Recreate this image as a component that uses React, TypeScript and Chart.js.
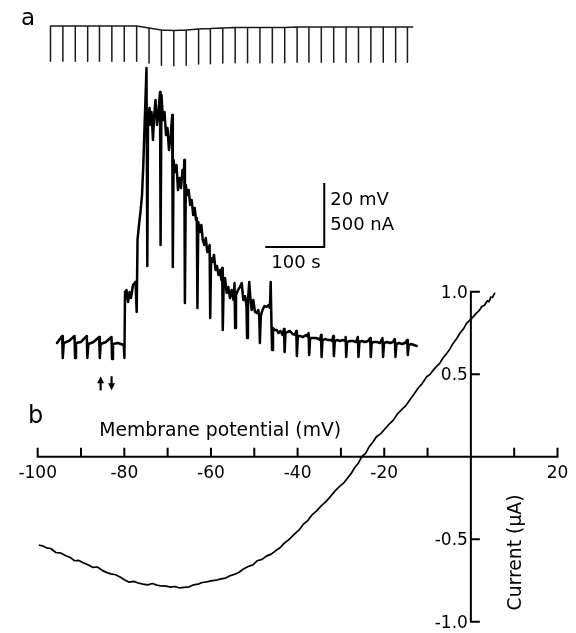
import React, { useEffect, useRef } from "react";
import { Chart, registerables } from "chart.js";

Chart.register(...registerables);

// ---------- Panel b: current–voltage relation ----------
const ivPotential = [-99.6, -98.8, -98, -97, -95.8, -94.6, -93.5, -92.5, -91.5, -90.5, -89.5, -88.4, -87.3, -86.2, -85, -84, -83.1, -82, -81, -80, -78.9, -77.8, -76.8, -75.7, -74.6, -73.5, -72.5, -71.4, -70.4, -69.3, -68.3, -67.2, -66.2, -65, -64, -63, -62, -61, -60, -58.8, -57.7, -56.6, -55.5, -54.5, -53.5, -52.4, -51.4, -50.3, -49.3, -48.2, -47.2, -46.1, -45.1, -44, -43, -41.9, -40.8, -39.7, -38.7, -37.6, -36.6, -35.5, -34.5, -33.4, -32.4, -31.3, -30.3, -29.4, -28.5, -27.6, -26.8, -26, -25.2, -24.3, -23.5, -22.6, -21.8, -20.8, -19.8, -18.8, -17.9, -17, -16, -15, -14.1, -13.1, -12.2, -11.2, -10.2, -9.4, -8.7, -7.9, -7.2, -6.4, -5.6, -4.8, -4.1, -3.3, -2.5, -1.7, -1, 0.2, 1.3, 1.9, 2.5, 3.2, 3.8, 4.2, 4.6, 5, 5.2, 5.5];
const ivCurrent = [-0.536, -0.54, -0.552, -0.556, -0.58, -0.584, -0.6, -0.61, -0.63, -0.628, -0.642, -0.655, -0.67, -0.668, -0.69, -0.702, -0.71, -0.715, -0.728, -0.745, -0.76, -0.755, -0.765, -0.772, -0.776, -0.768, -0.778, -0.783, -0.784, -0.79, -0.786, -0.795, -0.792, -0.788, -0.776, -0.772, -0.762, -0.758, -0.752, -0.748, -0.74, -0.735, -0.72, -0.712, -0.7, -0.678, -0.665, -0.655, -0.63, -0.622, -0.602, -0.59, -0.57, -0.55, -0.522, -0.5, -0.47, -0.445, -0.41, -0.385, -0.35, -0.325, -0.296, -0.27, -0.24, -0.205, -0.18, -0.16, -0.13, -0.1, -0.065, -0.04, 0, 0.02, 0.06, 0.09, 0.121, 0.14, 0.17, 0.2, 0.222, 0.258, 0.285, 0.31, 0.344, 0.38, 0.415, 0.445, 0.485, 0.5, 0.525, 0.548, 0.566, 0.6, 0.625, 0.655, 0.687, 0.715, 0.75, 0.775, 0.808, 0.839, 0.87, 0.885, 0.909, 0.92, 0.945, 0.94, 0.968, 0.965, 0.978, 0.99];

const potentialTicks = [-100, -90, -80, -70, -60, -50, -40, -30, -20, -10, 0, 10, 20];
const potentialLabels = [-100, -80, -60, -40, -20, 20];
const currentTicks = [1.0, 0.5, -0.5, -1.0];
const currentLabels = ["1.0", "0.5", "-0.5", "-1.0"];

// ---------- Panel a: time course ----------
// voltage-clamp pulses (s) and the holding-potential trace (mV, relative)
const pulseTimes = [0, 21, 42, 63, 83, 104, 125, 146, 167, 188, 209, 230, 251, 271, 292, 313, 334, 355, 376, 397, 418, 438, 459, 480, 501, 522, 543, 564, 585, 605];
const holdingLevel = [0, 0, 0, 0, 0, 0, 0, 0, -0.6, -1.25, -1.4, -1.25, -0.9, -0.8, -0.6, -0.5, -0.5, -0.5, -0.5, -0.5, -0.3, -0.3, -0.3, -0.3, -0.3, -0.3, -0.3, -0.3, -0.3, -0.3];
const pulseStep = -11; // mV
const voltageEnd = 614; // s

// membrane current trace (s, nA relative to baseline)
const traceTime = [11.0, 19.8, 20.8, 22.5, 31.4, 40.7, 41.7, 43.2, 51.7, 61.5, 62.5, 64.1, 72.9, 82.5, 83.6, 85.1, 94.1, 103.4, 104.4, 105.9, 114.4, 124.2, 125.3, 126.3, 128.8, 131.4, 133.9, 136.4, 139.8, 144.1, 146.1, 147.5, 150.0, 152.5, 155.1, 157.3, 159.3, 161.5, 162.7, 164.1, 165.3, 167.8, 169.5, 171.2, 173.7, 175.4, 178.0, 180.5, 183.0, 185.6, 186.6, 188.1, 190.7, 193.2, 195.8, 198.3, 200.8, 203.4, 206.3, 207.3, 208.6, 211.0, 213.6, 216.1, 218.6, 221.2, 223.7, 225.8, 226.8, 227.8, 229.3, 231.7, 234.2, 236.8, 239.3, 241.9, 244.4, 246.6, 248.0, 249.0, 250.5, 253.0, 255.6, 258.1, 260.7, 263.2, 265.8, 268.3, 269.7, 270.7, 272.2, 274.6, 277.1, 279.7, 282.2, 284.7, 287.3, 289.8, 291.0, 292.0, 293.6, 295.8, 298.6, 301.4, 304.2, 307.1, 310.2, 311.9, 312.9, 314.4, 317.8, 321.2, 324.1, 326.8, 329.7, 332.2, 333.2, 334.7, 336.9, 339.0, 341.0, 343.7, 346.6, 349.5, 352.2, 353.9, 354.9, 356.4, 359.3, 362.7, 366.4, 369.5, 372.0, 373.2, 374.6, 375.6, 377.1, 379.7, 383.4, 386.4, 389.8, 393.2, 395.8, 396.8, 398.3, 401.7, 405.9, 410.2, 414.4, 416.6, 417.6, 419.2, 422.9, 428.0, 433.0, 436.4, 437.5, 438.5, 440.0, 444.9, 450.0, 455.1, 456.8, 458.5, 459.5, 461.0, 465.3, 470.3, 475.4, 477.1, 479.3, 480.3, 481.9, 485.6, 490.7, 495.8, 499.2, 500.2, 501.2, 502.7, 507.6, 512.7, 517.8, 521.0, 522.0, 523.6, 528.0, 533.0, 538.1, 541.9, 542.9, 544.4, 548.3, 553.4, 558.5, 562.7, 563.7, 565.3, 570.3, 575.4, 580.5, 583.7, 584.7, 586.3, 590.7, 595.8, 600.8, 604.6, 605.6, 607.1, 611.0, 616.1, 620.7];
const traceCurrent = [0, 55, -117, 0, 16, 55, -117, 0, 8, 55, -117, -8, 8, 47, -117, -8, 8, 47, -125, -8, 0, -16, -117, 398, 414, 320, 398, 352, 453, 477, 242, 805, 922, 1023, 1156, 1391, 1680, 1977, 2148, 602, 1758, 1836, 1703, 1805, 1586, 1758, 1898, 1703, 1805, 1961, 766, 1938, 1742, 1805, 1625, 1680, 1508, 1602, 1781, 594, 1430, 1336, 1391, 1195, 1289, 1211, 1352, 1289, 1430, 313, 1234, 1156, 1195, 1078, 1117, 1000, 1055, 961, 977, 273, 945, 867, 922, 805, 766, 820, 711, 742, 766, 195, 664, 633, 688, 570, 602, 531, 570, 492, 586, 102, 477, 508, 391, 438, 352, 414, 336, 469, 117, 375, 414, 438, 469, 336, 367, 289, 39, 336, 477, 336, 258, 336, 242, 234, 258, 203, 0, 211, 258, 289, 281, 297, 273, 477, 125, -55, 117, 102, 102, 78, 94, 63, 109, -70, 78, 86, 94, 70, 63, 94, -102, 55, 55, 47, 63, 47, 78, -94, 39, 39, 39, 31, 23, 63, -109, 23, 31, 23, 23, 16, 55, -102, 16, 23, 16, 23, 16, 47, -109, 8, 16, 16, 8, 47, -109, 8, 16, 8, 16, 39, -109, 0, 8, 8, 0, 39, -109, 0, 8, 0, 8, 31, -109, -8, 0, -8, 0, 23, -94, -16, -8, -16, -23];

// calibration bars: 100 s horizontal, 500 nA (20 mV) vertical
const scaleBarTime = [364, 464, 464];
const scaleBarCurrent = [750, 750, 1250];

// drug application marks (s)
const arrowTimes = [85, 103.5];
const arrowDirections = ["up", "down"];

const FONT = '"DejaVu Sans", "Liberation Sans", sans-serif';

const overlayPlugin = {
  id: "figureOverlay",
  afterDatasetsDraw(chart: any) {
    const ctx: CanvasRenderingContext2D = chart.ctx;
    const sx = chart.scales.x;
    const sy = chart.scales.y;
    const st = chart.scales.xt;
    const si = chart.scales.yi;
    ctx.save();
    ctx.strokeStyle = "#000";
    ctx.fillStyle = "#000";
    ctx.lineCap = "square";

    // ---- panel b axes ----
    const y0 = sy.getPixelForValue(0);
    const x0 = sx.getPixelForValue(0);
    ctx.lineWidth = 2;
    ctx.beginPath();
    ctx.moveTo(sx.getPixelForValue(potentialTicks[0]), y0);
    ctx.lineTo(sx.getPixelForValue(potentialTicks[potentialTicks.length - 1]), y0);
    for (const v of potentialTicks) {
      const px = sx.getPixelForValue(v);
      ctx.moveTo(px, y0);
      ctx.lineTo(px, y0 - 8);
    }
    ctx.moveTo(x0, sy.getPixelForValue(currentTicks[0]));
    ctx.lineTo(x0, sy.getPixelForValue(currentTicks[currentTicks.length - 1]));
    for (const v of currentTicks) {
      const py = sy.getPixelForValue(v);
      ctx.moveTo(x0, py);
      ctx.lineTo(x0 + 8, py);
    }
    ctx.stroke();

    ctx.font = `17px ${FONT}`;
    ctx.textAlign = "center";
    ctx.textBaseline = "alphabetic";
    for (const v of potentialLabels) {
      ctx.fillText(String(v), sx.getPixelForValue(v), y0 + 21);
    }
    ctx.textAlign = "right";
    currentTicks.forEach((v, i) => {
      ctx.fillText(currentLabels[i], x0 - 3, sy.getPixelForValue(v) + 6);
    });

    ctx.font = `18.8px ${FONT}`;
    ctx.textAlign = "left";
    ctx.fillText("Membrane potential (mV)", sx.getPixelForValue(-85.8), y0 - 21);

    ctx.save();
    ctx.translate(x0 + 50, sy.getPixelForValue(-0.58));
    ctx.rotate(-Math.PI / 2);
    ctx.textAlign = "center";
    ctx.fillText("Current (\u03bcA)", 0, 0);
    ctx.restore();

    // ---- panel letters ----
    ctx.font = `23px ${FONT}`;
    ctx.textAlign = "left";
    ctx.fillText("a", 21, 25);
    ctx.font = `24px ${FONT}`;
    ctx.fillText("b", 28, 423);

    // ---- calibration labels ----
    const barRight = st.getPixelForValue(scaleBarTime[1]);
    const barLeft = st.getPixelForValue(scaleBarTime[0]);
    const barBottom = si.getPixelForValue(scaleBarCurrent[0]);
    const barTop = si.getPixelForValue(scaleBarCurrent[2]);
    ctx.font = `18px ${FONT}`;
    ctx.fillText("20 mV", barRight + 6, barTop + 22);
    ctx.fillText("500 nA", barRight + 6, barTop + 47);
    ctx.fillText("100 s", barLeft + 6, barBottom + 21);

    // ---- application arrows ----
    const aTop = si.getPixelForValue(-260);
    const aBot = si.getPixelForValue(-370);
    arrowTimes.forEach((t, i) => {
      const px = st.getPixelForValue(t);
      ctx.lineWidth = 2.2;
      ctx.lineCap = "butt";
      ctx.beginPath();
      if (arrowDirections[i] === "up") {
        ctx.moveTo(px, aBot);
        ctx.lineTo(px, aTop + 5);
        ctx.stroke();
        ctx.beginPath();
        ctx.moveTo(px, aTop);
        ctx.lineTo(px - 3.5, aTop + 7);
        ctx.lineTo(px + 3.5, aTop + 7);
      } else {
        ctx.moveTo(px, aTop);
        ctx.lineTo(px, aBot - 5);
        ctx.stroke();
        ctx.beginPath();
        ctx.moveTo(px, aBot);
        ctx.lineTo(px - 3.5, aBot - 7);
        ctx.lineTo(px + 3.5, aBot - 7);
      }
      ctx.closePath();
      ctx.fill();
    });

    ctx.restore();
  },
};

export default function App() {
  const canvasRef = useRef<HTMLCanvasElement | null>(null);

  useEffect(() => {
    const canvas = canvasRef.current;
    if (!canvas) return;

    const ivData = ivPotential.map((v, i) => ({ x: v, y: ivCurrent[i] }));
    const currentData = traceTime.map((t, i) => ({ x: t, y: traceCurrent[i] }));
    const voltageData: { x: number; y: number }[] = [];
    pulseTimes.forEach((t, i) => {
      voltageData.push({ x: t, y: holdingLevel[i] });
      voltageData.push({ x: t, y: holdingLevel[i] + pulseStep });
      voltageData.push({ x: t, y: holdingLevel[i] });
    });
    voltageData.push({ x: voltageEnd, y: holdingLevel[holdingLevel.length - 1] });
    const barData = scaleBarTime.map((t, i) => ({ x: t, y: scaleBarCurrent[i] }));

    const common = {
      showLine: true,
      pointRadius: 0,
      pointHoverRadius: 0,
      fill: false,
      tension: 0,
      borderJoinStyle: "round" as const,
      borderCapStyle: "round" as const,
    };

    const chart = new Chart(canvas, {
      type: "scatter",
      data: {
        datasets: [
          { ...common, label: "I-V", data: ivData, xAxisID: "x", yAxisID: "y", borderColor: "#000", borderWidth: 1.7 },
          { ...common, label: "Current", data: currentData, xAxisID: "xt", yAxisID: "yi", borderColor: "#000", borderWidth: 2.5 },
          { ...common, label: "Voltage", data: voltageData, xAxisID: "xt", yAxisID: "yv", borderColor: "#1a1a1a", borderWidth: 1.5 },
          { ...common, label: "Calibration", data: barData, xAxisID: "xt", yAxisID: "yi", borderColor: "#000", borderWidth: 2, borderCapStyle: "butt" as const, borderJoinStyle: "miter" as const },
        ],
      },
      options: {
        animation: false,
        responsive: false,
        events: [],
        layout: { padding: 0 },
        plugins: { legend: { display: false }, tooltip: { enabled: false } },
        scales: {
          x: { type: "linear", display: false, bounds: "data", min: -108.7, max: 24.27 },
          y: { type: "linear", display: false, bounds: "data", min: -1.068, max: 2.768 },
          xt: { type: "linear", axis: "x", display: false, bounds: "data", min: -85.59, max: 890.68 },
          yi: { type: "linear", axis: "y", display: false, bounds: "data", min: -2265.6, max: 2679.7 },
          yv: { type: "linear", axis: "y", display: false, bounds: "data", min: -189.7, max: 8.125 },
        },
      } as any,
      plugins: [overlayPlugin],
    });

    return () => chart.destroy();
  }, []);

  return (
    <div style={{ position: "absolute", left: 0, top: 0, width: 576, height: 633, background: "#fff" }}>
      <canvas ref={canvasRef} width={576} height={633} style={{ display: "block" }} />
    </div>
  );
}
